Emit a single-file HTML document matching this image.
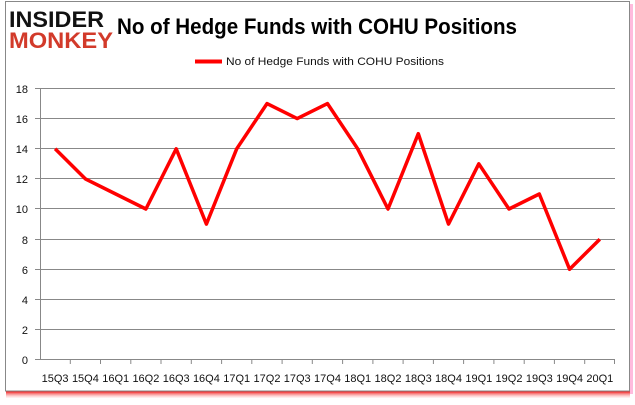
<!DOCTYPE html>
<html><head><meta charset="utf-8"><style>
body{margin:0;background:#fff;}
svg{display:block;font-family:"Liberation Sans",sans-serif;}
</style></head><body>
<svg width="635" height="405" viewBox="0 0 635 405" xmlns="http://www.w3.org/2000/svg">
<defs><linearGradient id="sh" x1="0" y1="0" x2="0" y2="1"><stop offset="0" stop-color="#e00"/><stop offset="1" stop-color="#fdd" stop-opacity="0.3"/></linearGradient></defs>
<rect x="6" y="391" width="624" height="7" fill="url(#sh)"/>
<rect x="630" y="4" width="3" height="390" fill="#fbd"/>
<rect x="5.5" y="1.5" width="624" height="389.5" fill="#fff" stroke="#888" stroke-width="1"/>
<text x="9" y="27" font-size="22" font-weight="bold" fill="#111" textLength="95" lengthAdjust="spacingAndGlyphs">INSIDER</text>
<text x="9" y="48" font-size="22" font-weight="bold" fill="#d23a2a" textLength="104" lengthAdjust="spacingAndGlyphs">MONKEY</text>
<text x="117" y="34" font-size="22" font-weight="bold" fill="#000" textLength="400" lengthAdjust="spacingAndGlyphs">No of Hedge Funds with COHU Positions</text>
<line x1="195" y1="61.5" x2="222" y2="61.5" stroke="#f00" stroke-width="4"/>
<text x="226" y="65" font-size="11" fill="#111" textLength="218" lengthAdjust="spacingAndGlyphs">No of Hedge Funds with COHU Positions</text>
<g stroke="#888" stroke-width="1">
<line x1="40" y1="88.5" x2="615" y2="88.5"/><line x1="40" y1="118.5" x2="615" y2="118.5"/>
<line x1="40" y1="148.5" x2="615" y2="148.5"/><line x1="40" y1="178.5" x2="615" y2="178.5"/>
<line x1="40" y1="208.5" x2="615" y2="208.5"/><line x1="40" y1="239.5" x2="615" y2="239.5"/>
<line x1="40" y1="269.5" x2="615" y2="269.5"/><line x1="40" y1="299.5" x2="615" y2="299.5"/>
<line x1="40" y1="329.5" x2="615" y2="329.5"/><line x1="40" y1="359.5" x2="615" y2="359.5"/>
<line x1="40.5" y1="88" x2="40.5" y2="360"/>
</g>
<g font-size="11" fill="#111" text-anchor="end">
<text x="28" y="93">18</text><text x="28" y="123">16</text><text x="28" y="153">14</text><text x="28" y="183">12</text><text x="28" y="213">10</text><text x="28" y="244">8</text><text x="28" y="274">6</text><text x="28" y="304">4</text><text x="28" y="334">2</text><text x="28" y="364">0</text>
</g>
<g stroke="#888">
<line x1="35" y1="88.5" x2="40" y2="88.5"/><line x1="35" y1="118.5" x2="40" y2="118.5"/><line x1="35" y1="148.5" x2="40" y2="148.5"/><line x1="35" y1="178.5" x2="40" y2="178.5"/><line x1="35" y1="208.5" x2="40" y2="208.5"/><line x1="35" y1="239.5" x2="40" y2="239.5"/><line x1="35" y1="269.5" x2="40" y2="269.5"/><line x1="35" y1="299.5" x2="40" y2="299.5"/><line x1="35" y1="329.5" x2="40" y2="329.5"/><line x1="35" y1="359.5" x2="40" y2="359.5"/>
<line x1="70.3" y1="359" x2="70.3" y2="364"/><line x1="100.5" y1="359" x2="100.5" y2="364"/><line x1="130.8" y1="359" x2="130.8" y2="364"/><line x1="161" y1="359" x2="161" y2="364"/><line x1="191.3" y1="359" x2="191.3" y2="364"/><line x1="221.6" y1="359" x2="221.6" y2="364"/><line x1="251.8" y1="359" x2="251.8" y2="364"/><line x1="282.1" y1="359" x2="282.1" y2="364"/><line x1="312.3" y1="359" x2="312.3" y2="364"/><line x1="342.6" y1="359" x2="342.6" y2="364"/><line x1="372.9" y1="359" x2="372.9" y2="364"/><line x1="403.1" y1="359" x2="403.1" y2="364"/><line x1="433.4" y1="359" x2="433.4" y2="364"/><line x1="463.6" y1="359" x2="463.6" y2="364"/><line x1="493.9" y1="359" x2="493.9" y2="364"/><line x1="524.2" y1="359" x2="524.2" y2="364"/><line x1="554.4" y1="359" x2="554.4" y2="364"/><line x1="584.7" y1="359" x2="584.7" y2="364"/><line x1="614.5" y1="359" x2="614.5" y2="364"/>
</g>
<g font-size="11" fill="#111" text-anchor="middle">
<text x="55.1" y="382">15Q3</text><text x="85.4" y="382">15Q4</text><text x="115.7" y="382">16Q1</text><text x="145.9" y="382">16Q2</text><text x="176.2" y="382">16Q3</text><text x="206.4" y="382">16Q4</text><text x="236.7" y="382">17Q1</text><text x="267" y="382">17Q2</text><text x="297.2" y="382">17Q3</text><text x="327.5" y="382">17Q4</text><text x="357.7" y="382">18Q1</text><text x="388" y="382">18Q2</text><text x="418.3" y="382">18Q3</text><text x="448.5" y="382">18Q4</text><text x="478.8" y="382">19Q1</text><text x="509" y="382">19Q2</text><text x="539.3" y="382">19Q3</text><text x="569.6" y="382">19Q4</text><text x="599.8" y="382">20Q1</text>
</g>
<polyline fill="none" stroke="#f00" stroke-width="3.5" stroke-linejoin="round" points="55.1,148.8 85.4,178.9 115.7,194 145.9,209 176.2,148.8 206.4,224.1 236.7,148.8 267,103.6 297.2,118.6 327.5,103.6 357.7,148.8 388,209 418.3,133.7 448.5,224.1 478.8,163.8 509,209 539.3,194 569.6,269.3 599.8,239.2"/>
</svg>
</body></html>
